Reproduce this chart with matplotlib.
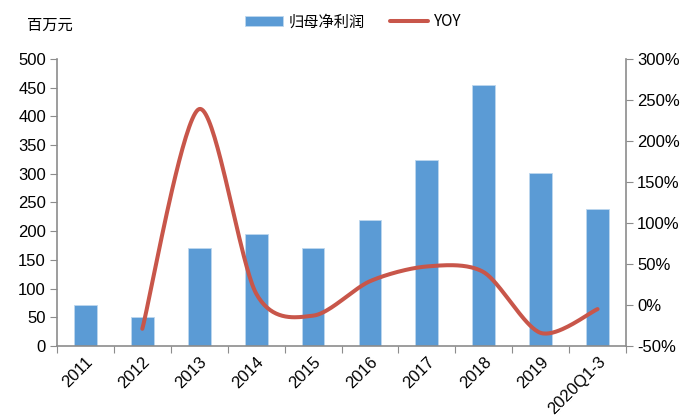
import numpy as np
import matplotlib
matplotlib.use("Agg")
import matplotlib.pyplot as plt
from matplotlib.ticker import FuncFormatter

plt.rcParams['font.family'] = ['Liberation Sans', 'Noto Sans CJK SC', 'DejaVu Sans']

years = ["2011", "2012", "2013", "2014", "2015", "2016", "2017", "2018", "2019", "2020Q1-3"]
profit = [71, 50, 171, 195, 170, 220, 324, 455, 301, 238]
yoy_years = years[1:]
yoy = [-29, 239, 14, -13, 29, 47, 40, -34, -5]

bar_col = "#5B9BD5"
line_col = "#C8564A"
axis_col = "#8C8C8C"


def smooth(xs, ys, n=40, k=7.0):
    # cubic bezier curve through every point, control handles from neighbours
    xs = np.asarray(xs, float)
    ys = np.asarray(ys, float)
    px = np.concatenate([[xs[0]], xs, [xs[-1]]])
    py = np.concatenate([[ys[0]], ys, [ys[-1]]])
    ox, oy = [], []
    for i in range(1, len(px) - 2):
        p0 = np.array([px[i], py[i]])
        p3 = np.array([px[i + 1], py[i + 1]])
        c1 = p0 + (np.array([px[i + 1], py[i + 1]]) - np.array([px[i - 1], py[i - 1]])) / k
        c2 = p3 - (np.array([px[i + 2], py[i + 2]]) - p0) / k
        t = np.linspace(0, 1, n)[:, None]
        pts = (1 - t) ** 3 * p0 + 3 * (1 - t) ** 2 * t * c1 + 3 * (1 - t) * t ** 2 * c2 + t ** 3 * p3
        ox.extend(pts[:, 0])
        oy.extend(pts[:, 1])
    return np.array(ox), np.array(oy)


fig = plt.figure(figsize=(6.8, 4.19), dpi=100)
ax = fig.add_axes([57 / 680, 1 - 346 / 419, (626 - 57) / 680, (346 - 59) / 419])
x = np.arange(len(years))
bars = ax.bar(x, profit, width=0.4, color=bar_col, edgecolor="#BDD7EE", linewidth=0.6,
              label="归母净利润", zorder=2)
ax.set_xlim(-0.5, len(years) - 0.5)
ax.set_ylim(0, 500)
ax.set_yticks(range(0, 501, 50))
ax.set_xticks(np.arange(-0.5, len(years), 1.0))
ax.set_xticklabels([])
ax.set_xticks(x, minor=True)
ax.set_xticklabels(years, minor=True, rotation=45, ha="right", rotation_mode="anchor", fontsize=12)
ax.tick_params(axis="x", which="minor", length=0, pad=6)
ax.tick_params(axis="x", which="major", length=5, color=axis_col, direction="out")
ax.tick_params(axis="y", length=5, color=axis_col, labelsize=12, pad=3)
for s in ["top", "right"]:
    ax.spines[s].set_visible(False)
for s in ["left", "bottom"]:
    ax.spines[s].set_color(axis_col)
    ax.spines[s].set_linewidth(1.2)

ax2 = ax.twinx()
ax2.set_ylim(-50, 300)
ax2.set_yticks(range(-50, 301, 50))
ax2.yaxis.set_major_formatter(FuncFormatter(lambda v, p: "%d%%" % v))
ax2.tick_params(axis="y", length=5, color=axis_col, labelsize=12, pad=3)
for s in ["top", "left", "bottom"]:
    ax2.spines[s].set_visible(False)
ax2.spines["right"].set_color(axis_col)
ax2.spines["right"].set_linewidth(1.2)

xi = [years.index(y) for y in yoy_years]
sx, sy = smooth(xi, yoy)
line, = ax2.plot(sx, sy, color=line_col, linewidth=2.9, solid_capstyle="round", label="YOY", zorder=3)

fig.text(27 / 680, 1 - 25 / 419, "百万元", fontsize=11, family=['Noto Sans CJK SC'],
         va="center", ha="left")
fig.legend([bars, line], ["归母净利润", "YOY"], loc="center", bbox_to_anchor=(353 / 680, 1 - 22 / 419),
           ncol=2, frameon=False, handlelength=2.5, handleheight=0.55, handletextpad=0.4,
           columnspacing=1.6,
           prop={'family': ['Noto Sans CJK SC', 'DejaVu Sans'], 'size': 11})

fig.savefig("out.png", dpi=100)
